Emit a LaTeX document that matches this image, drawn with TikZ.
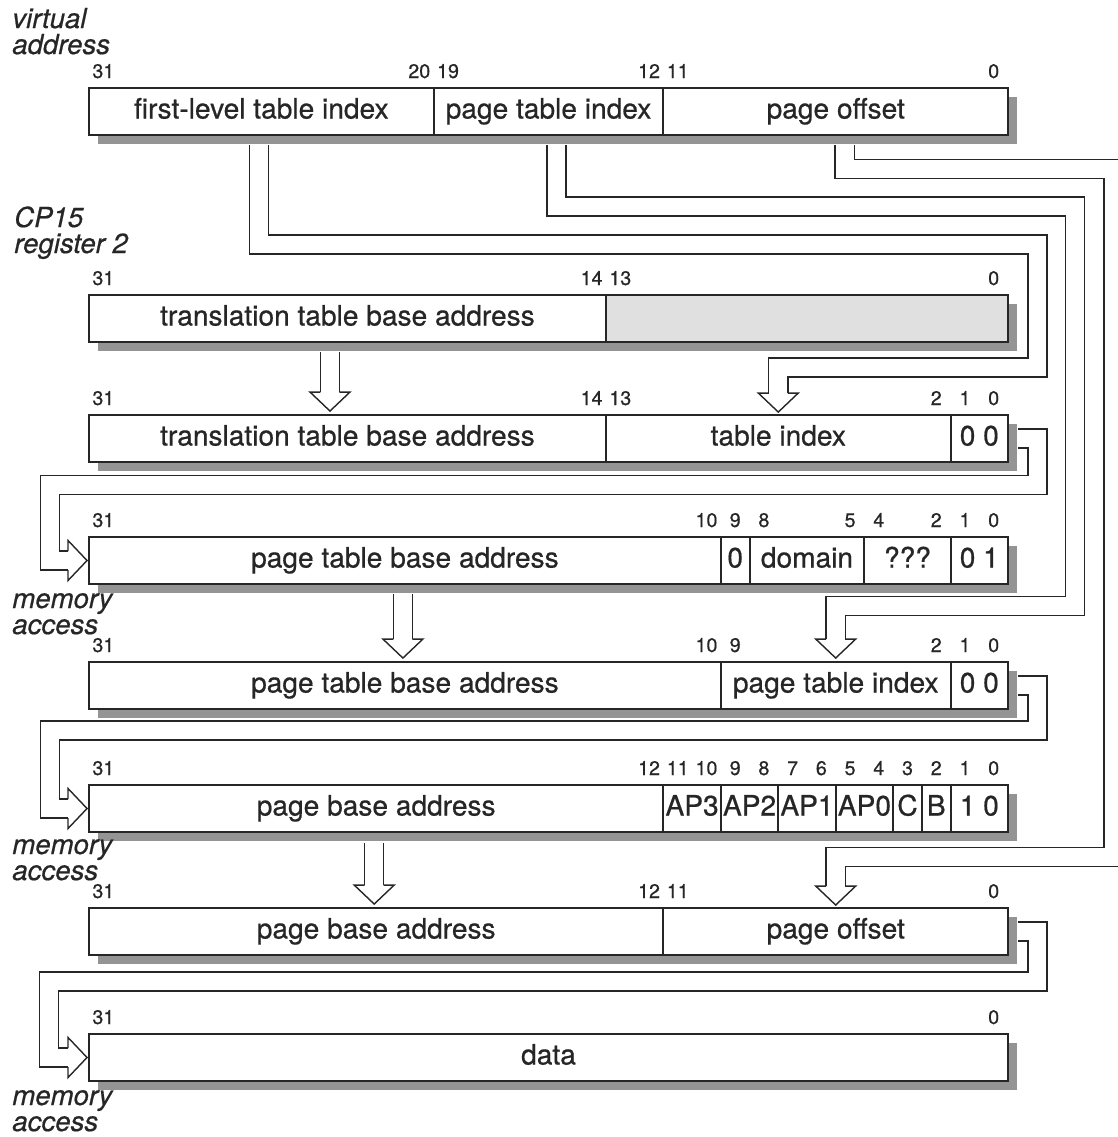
\documentclass[tikz,border=0pt]{standalone}
\usepackage{fontspec}
\setmainfont{TeX Gyre Heros}[FakeBold=0.6]
\usetikzlibrary{calc,shadows}

% one field of a register row: [style] name, high bit, low bit, row top, text
\newcommand\regfield[6][field]{%
  \node[#1, minimum width={(#3-#4+1)*28.72*0.02cm}, minimum height=0.94cm]
    (#2) at ({89+(31-#3)*28.72+(#3-#4+1)*14.36},{#5+23.5}) {#6};}
% bit numbers above a row: name prefix, row top, bits
\newcommand\bitrow[3]{%
  \foreach \b in {#3} \node[bitno] (#1\b) at ({89+(31.5-\b)*28.72},{#2-10}) {\b};}

\tikzset{
  field/.style={draw=black!85, line width=1.1pt, fill=white, inner sep=0pt,
    text=black!85, text height=0.4cm, text depth=0.12cm,
    font=\fontsize{16}{19}\selectfont,
    general shadow={draw=none, fill=black!42, shadow xshift=0.18cm, shadow yshift=-0.18cm}},
  grayfield/.style={field, fill=black!12},
  bitno/.style={anchor=base, inner sep=0pt, text=black!85,
    font=\fontsize{11.2}{13}\selectfont},
  sidelabel/.style={anchor=base west, align=left, inner sep=0pt, text=black!85,
    font=\fontsize{15.7}{14.8}\selectfont\itshape},
  band/.style={draw=black!85, line width=0.8pt, double=white,
    double distance=0.355cm, line join=miter},
  hhead/.pic={\draw[black!85, line width=0.8pt, line join=miter]
    (0,-9.5) -- (0,-20) -- (19,0) -- (0,20) -- (0,9.5);}
}

\begin{document}
\begin{tikzpicture}[x=0.02cm, y=-0.02cm]
  \clip (0,0) rectangle (1118,1137);

  % virtual address
  \bitrow{ra}{88}{31,20,19,12,11,0}
  \regfield{fli}{31}{20}{88}{first-level table index}
  \regfield{pti1}{19}{12}{88}{page table index}
  \regfield{po1}{11}{0}{88}{page offset}

  % CP15 register 2
  \bitrow{rb}{295}{31,14,13,0}
  \regfield{ttb2}{31}{14}{295}{translation table base address}
  \regfield[grayfield]{sbz2}{13}{0}{295}{}

  % first-level descriptor address
  \bitrow{rc}{415}{31,14,13,2,1,0}
  \regfield{ttb3}{31}{14}{415}{translation table base address}
  \regfield{tix}{13}{2}{415}{table index}
  \regfield{z3}{1}{0}{415}{0 0}

  % first-level descriptor
  \bitrow{rd}{537}{31,10,9,8,5,4,2,1,0}
  \regfield{ptb4}{31}{10}{537}{page table base address}
  \regfield{zb4}{9}{9}{537}{0}
  \regfield{dom}{8}{5}{537}{domain}
  \regfield{unk}{4}{2}{537}{???}
  \regfield{z4}{1}{0}{537}{0 1}

  % second-level descriptor address
  \bitrow{re}{662}{31,10,9,2,1,0}
  \regfield{ptb5}{31}{10}{662}{page table base address}
  \regfield{pti5}{9}{2}{662}{page table index}
  \regfield{z5}{1}{0}{662}{0 0}

  % second-level descriptor
  \bitrow{rf}{785}{31,12,11,10,9,8,7,6,5,4,3,2,1,0}
  \regfield{pba6}{31}{12}{785}{page base address}
  \regfield{apc}{11}{10}{785}{AP3}
  \regfield{apb}{9}{8}{785}{AP2}
  \regfield{apa}{7}{6}{785}{AP1}
  \regfield{apz}{5}{4}{785}{AP0}
  \regfield{cb}{3}{3}{785}{C}
  \regfield{bb}{2}{2}{785}{B}
  \regfield{z6}{1}{0}{785}{1 0}

  % physical address
  \bitrow{rg}{908}{31,12,11,0}
  \regfield{pba7}{31}{12}{908}{page base address}
  \regfield{po7}{11}{0}{908}{page offset}

  % data
  \bitrow{rh}{1034}{31,0}
  \regfield{dat}{31}{0}{1034}{data}

  % side labels
  \node[sidelabel] (va)  at (12,54)   {virtual\\address};
  \node[sidelabel] (cp)  at (14,253)  {CP15\\register 2};
  \node[sidelabel] (ma1) at (12,634)  {memory\\access};
  \node[sidelabel] (ma2) at (12,880)  {memory\\access};
  \node[sidelabel] (ma3) at (12,1131) {memory\\access};

  % straight copies
  \draw[band] ($(ttb2.south)+(-17.5,9)$) -- ($(ttb3.north)+(-17.5,-22)$);
  \pic[rotate=-90] at ($(ttb3.north)+(-17.5,-22)$) {hhead};
  \draw[band] ($(ptb4.south)+(-2,9)$) -- ($(ptb5.north)+(-2,-22)$);
  \pic[rotate=-90] at ($(ptb5.north)+(-2,-22)$) {hhead};
  \draw[band] ($(pba6.south)+(-2,10)$) -- ($(pba7.north)+(-2,-22)$);
  \pic[rotate=-90] at ($(pba7.north)+(-2,-22)$) {hhead};

  % index fields of the virtual address
  \draw[band] ($(fli.south)+(-2.5,9)$) |- (1037.5,244.5) |- ($(tix.north)+(0,-46.5)$)
    -- ($(tix.north)+(0,-21)$);
  \pic[rotate=-90] at ($(tix.north)+(0,-21)$) {hhead};
  \draw[band] ($(pti1.south)+(8,9)$) |- (1075,206.5) |- ($(pti5.north)+(0,-55)$)
    -- ($(pti5.north)+(0,-22)$);
  \pic[rotate=-90] at ($(pti5.north)+(0,-22)$) {hhead};
  \draw[band] ($(po1.south)+(9,9)$) |- (1113.5,169) |- ($(po7.north)+(0,-50)$)
    -- ($(po7.north)+(0,-21)$);
  \pic[rotate=-90] at ($(po7.north)+(0,-21)$) {hhead};

  % memory accesses
  \draw[band] ($(z3.east)+(9,0)$) -| (1037.5,485) -- (50,485) |- ($(ptb4.west)+(-20,0)$);
  \pic at ($(ptb4.west)+(-20,0)$) {hhead};
  \draw[band] ($(z5.east)+(9,0)$) -| (1037.5,730.5) -- (50,730.5) |- ($(pba6.west)+(-20,0)$);
  \pic at ($(pba6.west)+(-20,0)$) {hhead};
  \draw[band] ($(po7.east)+(9,0)$) -| (1037.5,981.5) -- (49,981.5) |- ($(dat.west)+(-20,0)$);
  \pic at ($(dat.west)+(-20,0)$) {hhead};
\end{tikzpicture}
\end{document}
